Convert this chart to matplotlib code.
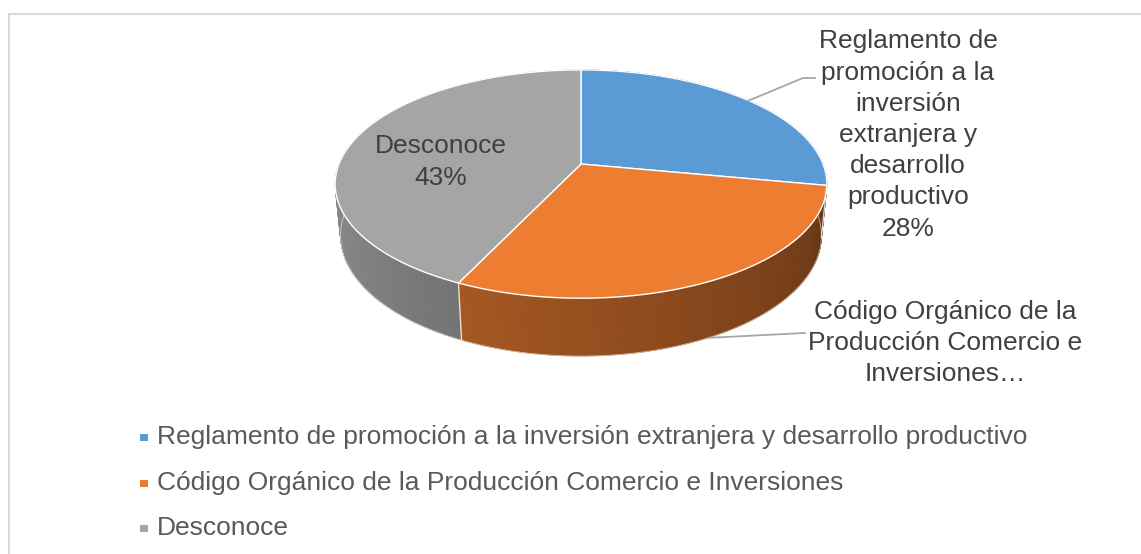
import numpy as np
import matplotlib.pyplot as plt
from matplotlib.patches import Polygon, Rectangle

# data
categories = ['Reglamento de promoción a la inversión extranjera y desarrollo productivo',
              'Código Orgánico de la Producción Comercio e Inversiones',
              'Desconoce']
values = [28, 29, 43]
colors = ['#5B9BD5', '#ED7D31', '#A5A5A5']
slice_labels = ['Reglamento de\npromoción a la\ninversión\nextranjera y\ndesarrollo\nproductivo\n28%',
                'Código Orgánico de la\nProducción Comercio e\nInversiones…',
                'Desconoce\n43%']

plt.rcParams['font.family'] = ['Liberation Sans', 'DejaVu Sans']

W, H = 1141, 554
fig = plt.figure(figsize=(W / 100, H / 100), dpi=100)
ax = fig.add_axes([0, 0, 1, 1])
ax.set_xlim(0, W)
ax.set_ylim(H, 0)
ax.axis('off')

# 3d pie camera (pixel space)
cx, cy = 581, 164
elev = np.radians(27.2)
dist = 5.06
focal = 242 * dist
depth = 0.241


def project(theta_deg, z):
    t = np.radians(theta_deg)
    x, y = np.cos(t), np.sin(t)
    den = dist + y * np.cos(elev) - z * np.sin(elev)
    sx = x * focal / den
    sy = (y * np.sin(elev) + z * np.cos(elev)) * focal / den
    return cx + sx, cy - sy


def shade(color, theta):
    f = 0.70 - 0.0027 * (theta + 115)
    f = min(max(f, 0.3), 0.95)
    rgb = np.array(plt.matplotlib.colors.to_rgb(color))
    return tuple(rgb * f)


# slice angles, clockwise from 12 o'clock
fracs = np.array(values) / sum(values)
starts = 90 - 360 * np.concatenate([[0], np.cumsum(fracs)[:-1]])
ends = starts - 360 * fracs

# side walls, back to front
strips = []
for i in range(len(values)):
    th = np.linspace(starts[i], ends[i], int(abs(ends[i] - starts[i])) + 2)
    for a, b in zip(th[:-1], th[1:]):
        strips.append((np.sin(np.radians((a + b) / 2)), a, b, colors[i]))
strips.sort(key=lambda s: -s[0])
for _, a, b, col in strips:
    pts = [project(a, 0), project(b, 0), project(b, -depth), project(a, -depth)]
    c = shade(col, (a + b) / 2)
    ax.add_patch(Polygon(pts, closed=True, facecolor=c, edgecolor=c, lw=0.6))

# seam lines on the front wall
for a in ends:
    if np.sin(np.radians(a)) < 0:
        p0, p1 = project(a, 0), project(a, -depth)
        ax.plot([p0[0], p1[0]], [p0[1], p1[1]], color='white', lw=1, alpha=0.8)

# bottom rim outline
th_all = np.linspace(-180, 0, 200)
rim = np.array([project(t, -depth) for t in th_all])
ax.plot(rim[:, 0], rim[:, 1], color='white', lw=0.6, alpha=0.6)

# top faces
for i in range(len(values)):
    th = np.linspace(starts[i], ends[i], 200)
    pts = [(cx, cy)] + [project(t, 0) for t in th]
    ax.add_patch(Polygon(pts, closed=True, facecolor=colors[i], edgecolor='white', lw=1))

# labels
txt_col = '#404040'
fs = 19
mid0 = (starts[0] + ends[0]) / 2
p = project(mid0, 0)
ax.plot([p[0], 803, 815], [p[1], 78, 78], color='#A6A6A6', lw=1.3)
ax.text(908, 135, slice_labels[0], ha='center', va='center', fontsize=fs,
        color=txt_col, linespacing=1.38)

mid1 = (starts[1] + ends[1]) / 2
p = project(mid1, -depth)
ax.plot([p[0], 805], [p[1], 333], color='#A6A6A6', lw=1.3)
ax.text(945, 343, slice_labels[1], ha='center', va='center', fontsize=fs,
        color=txt_col, linespacing=1.38)

ax.text(441, 162, slice_labels[2], ha='center', va='center', fontsize=fs,
        color=txt_col, linespacing=1.43)

# legend
leg_y = [437, 483, 528]
for cat, col, y in zip(categories, colors, leg_y):
    ax.add_patch(Rectangle((140, y - 3.5), 8, 7, facecolor=col, edgecolor='none'))
    ax.text(157, y, cat, ha='left', va='center', fontsize=fs, color='#595959')

# chart border (top and left visible)
ax.plot([8.5, 8.5, W + 5], [H + 5, 13.5, 13.5], color='#D9D9D9', lw=1.5)

fig.savefig('out.png', dpi=100)
